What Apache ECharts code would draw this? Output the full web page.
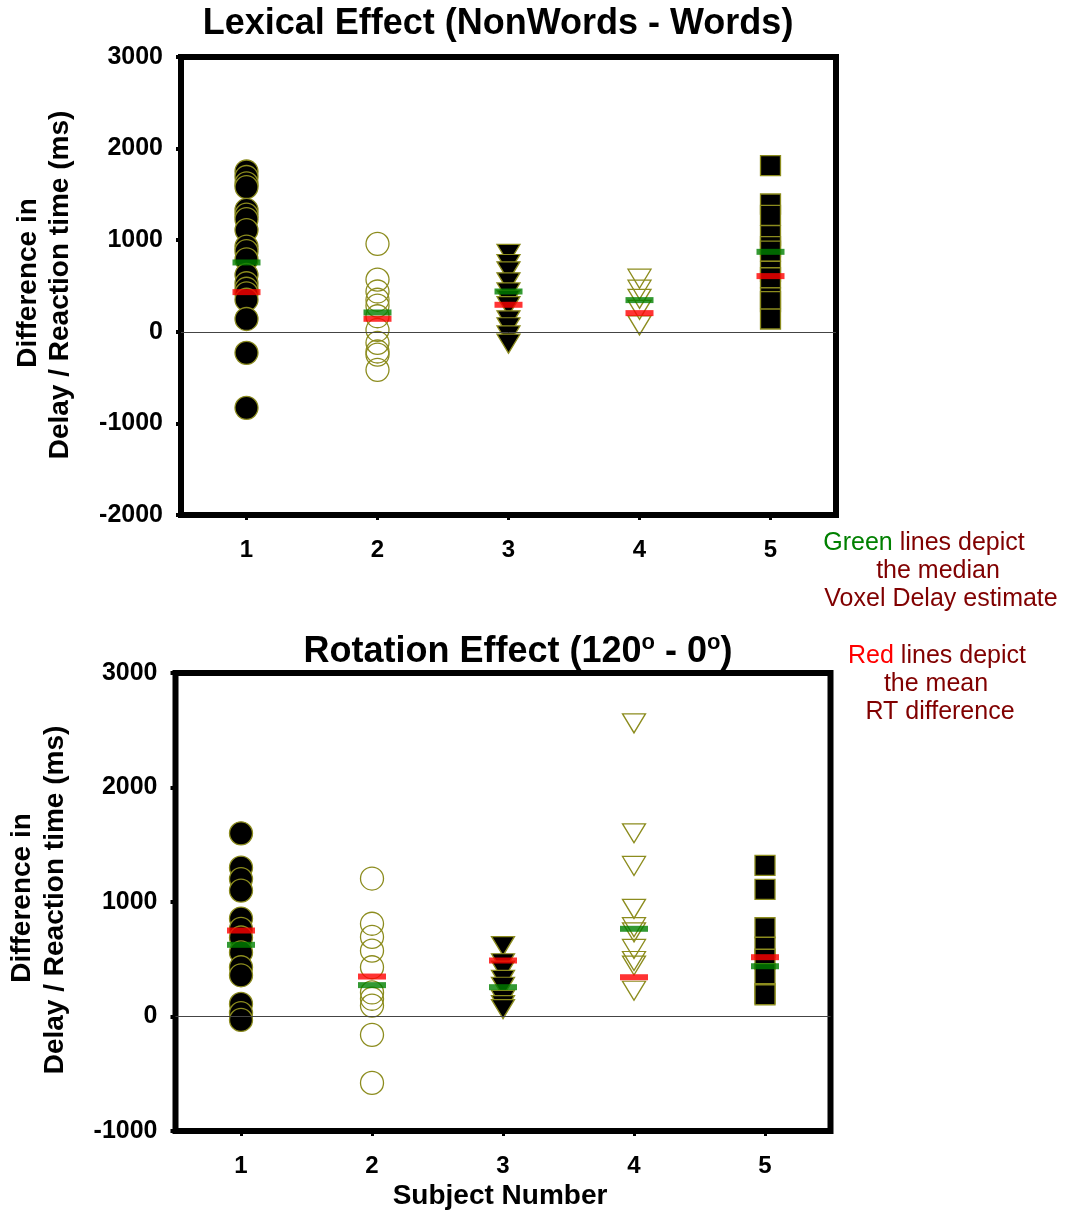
<!DOCTYPE html>
<html>
<head>
<meta charset="utf-8">
<script src="https://cdn.jsdelivr.net/npm/echarts@6/dist/echarts.min.js"></script>
<style>
html,body{margin:0;padding:0;background:#fff;}
#chart{width:1065px;height:1211px;}
</style>
</head>
<body>
<div id="chart"></div>
<script>
// ---- data ----
const subjects = ['1', '2', '3', '4', '5'];
const yTicksTop = [-2000, -1000, 0, 1000, 2000, 3000];
const yTicksBottom = [-1000, 0, 1000, 2000, 3000];

// Lexical effect (NonWords - Words): voxel delay differences per subject
const lexS1 = [1750, 1690, 1620, 1580, 1330, 1280, 1230, 1110, 930, 880, 790, 620, 530, 470, 420, 350, 140, -230, -830];
const lexS2 = [960, 570, 440, 350, 285, 170, 20, -120, -215, -250, -415];
const lexS3 = [850, 740, 660, 540, 430, 350, 280, 125, 50, -40, -130];
const lexS4 = [580, 460, 360, 240, 70];
const lexS5 = [1815, 1395, 1270, 1050, 930, 880, 660, 590, 370, 330, 140];
const lexMedian = [757, 211, 440, 346, 873];
const lexMeanRT = [433, 142, 295, 204, 608];

// Rotation effect (120 - 0)
const rotS1 = [1600, 1300, 1200, 1100, 855, 765, 690, 560, 430, 360, 110, 30, -30];
const rotS2 = [1205, 810, 695, 575, 430, 210, 155, 95, -160, -580];
const rotS3 = [615, 465, 400, 320, 260, 145, 100, 65];
const rotS4 = [2560, 1600, 1315, 940, 780, 735, 590, 485, 445, 225];
const rotS5 = [1320, 1110, 775, 605, 500, 375, 200, 190];
const rotMedian = [626, 274, 256, 766, 439];
const rotMeanRT = [751, 349, 489, 343, 518];

// ---- styling ----
const FONT = '"Liberation Sans", Arial, Helvetica, sans-serif';
const OLIVE = '#8c8c1e';
const markerStyles = [
  {symbol: 'circle', size: 23, rotate: 0, fill: '#000'},
  {symbol: 'circle', size: 23, rotate: 0, fill: 'rgba(0,0,0,0)'},
  {symbol: 'triangle', size: [23, 19], rotate: 180, fill: '#000'},
  {symbol: 'triangle', size: [23, 19], rotate: 180, fill: 'rgba(0,0,0,0)'},
  {symbol: 'rect', size: 20, rotate: 0, fill: '#000'}
];

function pts(idx, arr) { return arr.map(v => [idx, v]); }

function buildSeries(gridIdx, groups, median, mean) {
  const out = [];
  groups.forEach((arr, i) => {
    const m = markerStyles[i];
    const s = {
      type: 'scatter',
      xAxisIndex: gridIdx, yAxisIndex: gridIdx,
      data: pts(i, arr),
      symbol: m.symbol, symbolSize: m.size, symbolRotate: m.rotate,
      itemStyle: {color: m.fill, borderColor: OLIVE, borderWidth: 1.3, opacity: 1},
      z: 2, silent: true, animation: false
    };
    if (i === 0) {
      s.markLine = {
        silent: true, symbol: ['none', 'none'], animation: false,
        label: {show: false},
        lineStyle: {color: '#444', width: 1, type: 'solid'},
        data: [{yAxis: 0}]
      };
    }
    out.push(s);
  });
  out.push({
    type: 'scatter', xAxisIndex: gridIdx, yAxisIndex: gridIdx,
    data: median.map((v, i) => [i, v]),
    symbol: 'rect', symbolSize: [28, 6],
    itemStyle: {color: '#008000'}, z: 4, silent: true, animation: false
  });
  out.push({
    type: 'scatter', xAxisIndex: gridIdx, yAxisIndex: gridIdx,
    data: mean.map((v, i) => [i, v]),
    symbol: 'rect', symbolSize: [28, 6],
    itemStyle: {color: '#ff0000'}, z: 4, silent: true, animation: false
  });
  return out;
}

function xAxisCfg(gridIndex) {
  return {
    type: 'category', gridIndex, data: subjects, boundaryGap: true, position: 'bottom',
    axisLine: {show: false, onZero: false},
    axisTick: {show: true, alignWithLabel: true, length: 5, lineStyle: {color: '#000', width: 3}},
    axisLabel: {color: '#000', fontFamily: FONT, fontWeight: 'bold', fontSize: 24, margin: 23},
    splitLine: {show: false}
  };
}
function yAxisCfg(gridIndex, ticks) {
  return {
    type: 'value', gridIndex,
    min: ticks[0], max: ticks[ticks.length - 1], interval: 1000,
    axisLine: {show: false},
    axisTick: {show: true, length: 5, lineStyle: {color: '#000', width: 4}},
    axisLabel: {color: '#000', fontFamily: FONT, fontWeight: 'bold', fontSize: 25, margin: 18,
      formatter: v => String(v)},
    splitLine: {show: false}
  };
}

function txt(x, y, text, size, weight, color, rot, extra) {
  const el = {
    type: 'text', x, y, rotation: rot || 0, silent: true,
    style: Object.assign({
      text, fill: color || '#000', align: 'center', verticalAlign: 'middle',
      font: (weight || 'normal') + ' ' + size + 'px ' + FONT
    }, extra || {})
  };
  return el;
}

const ANN = '#800000';
const graphics = [
  txt(498, 24, 'Lexical Effect (NonWords - Words)', 36, 'bold'),
  {
    type: 'text', x: 518, y: 652, silent: true,
    style: {
      text: '{m|Rotation Effect (120}{s|o}{m| - 0}{s|o}{m|)}',
      align: 'center', verticalAlign: 'middle', fill: '#000',
      rich: {
        m: {fontFamily: FONT, fontWeight: 'bold', fontSize: 36, lineHeight: 40, fill: '#000'},
        s: {fontFamily: FONT, fontWeight: 'bold', fontSize: 22, lineHeight: 22, verticalAlign: 'top', fill: '#000'}
      }
    }
  },
  txt(28, 283, 'Difference in', 28, 'bold', '#000', Math.PI / 2),
  txt(60, 285, 'Delay / Reaction time (ms)', 28, 'bold', '#000', Math.PI / 2),
  txt(22, 898, 'Difference in', 28, 'bold', '#000', Math.PI / 2),
  txt(55, 900, 'Delay / Reaction time (ms)', 28, 'bold', '#000', Math.PI / 2),
  txt(500, 1196, 'Subject Number', 28, 'bold'),
  {
    type: 'text', x: 924, y: 543, silent: true,
    style: {
      text: '{g|Green}{d| lines depict}', align: 'center', verticalAlign: 'middle',
      rich: {
        g: {fontFamily: FONT, fontSize: 25, fill: '#008000'},
        d: {fontFamily: FONT, fontSize: 25, fill: ANN}
      }
    }
  },
  txt(938, 571, 'the median', 25, 'normal', ANN),
  txt(941, 599, 'Voxel Delay estimate', 25, 'normal', ANN),
  {
    type: 'text', x: 937, y: 656, silent: true,
    style: {
      text: '{r|Red}{d| lines depict}', align: 'center', verticalAlign: 'middle',
      rich: {
        r: {fontFamily: FONT, fontSize: 25, fill: '#ff0000'},
        d: {fontFamily: FONT, fontSize: 25, fill: ANN}
      }
    }
  },
  txt(936, 684, 'the mean', 25, 'normal', ANN),
  txt(940, 712, 'RT difference', 25, 'normal', ANN)
];

const chart = echarts.init(document.getElementById('chart'), null, {renderer: 'canvas'});
chart.setOption({
  animation: false,
  backgroundColor: '#fff',
  grid: [
    {left: 181, top: 57, width: 655, height: 458, show: true, borderColor: '#000', borderWidth: 6, backgroundColor: 'rgba(0,0,0,0)'},
    {left: 175.5, top: 673, width: 655, height: 458, show: true, borderColor: '#000', borderWidth: 6, backgroundColor: 'rgba(0,0,0,0)'}
  ],
  xAxis: [xAxisCfg(0), xAxisCfg(1)],
  yAxis: [yAxisCfg(0, yTicksTop), yAxisCfg(1, yTicksBottom)],
  series: [].concat(
    buildSeries(0, [lexS1, lexS2, lexS3, lexS4, lexS5], lexMedian, lexMeanRT),
    buildSeries(1, [rotS1, rotS2, rotS3, rotS4, rotS5], rotMedian, rotMeanRT)
  ),
  graphic: graphics
});
</script>
</body>
</html>
